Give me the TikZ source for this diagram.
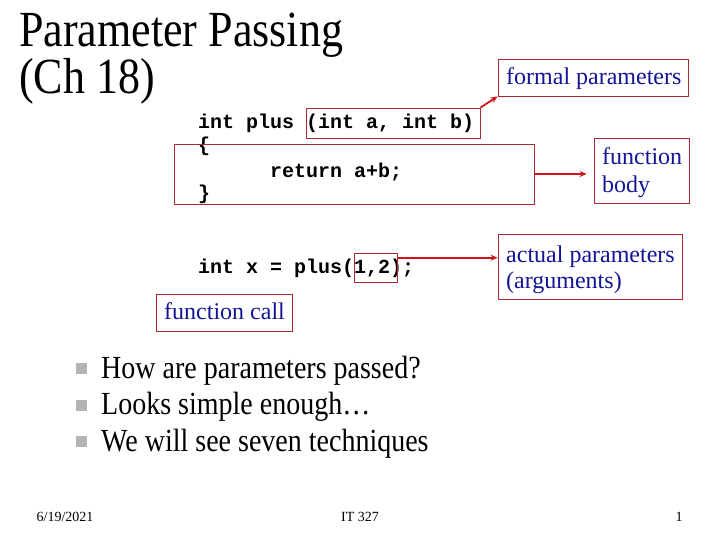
\documentclass[tikz,border=0pt]{standalone}
\usepackage{fontspec}
\setmainfont{Liberation Serif}
\newfontfamily\codefont{Liberation Mono}
\usetikzlibrary{arrows.meta,calc}
\definecolor{boxred}{RGB}{170,40,50}
\definecolor{arrred}{RGB}{205,20,30}
\definecolor{lblue}{RGB}{20,20,150}
\definecolor{bulgrey}{RGB}{180,180,180}
\newcommand\vstretch[1]{\scalebox{1}[1.15]{#1}}
\tikzset{
  txt/.style={anchor=base west, inner sep=0pt},
  title/.style={txt, font=\fontsize{44}{48}\selectfont},
  code/.style={txt, font=\codefont\bfseries\fontsize{20}{24}\selectfont},
  hbox/.style={draw=boxred, line width=0.8pt, inner sep=0pt},
  ltxt/.style={txt, text=lblue, font=\fontsize{24}{28}\selectfont},
  bul/.style={txt, font=\fontsize{28}{36}\selectfont},
  bulmark/.style={fill=bulgrey, minimum size=11pt, inner sep=0pt},
  foot/.style={anchor=base, inner sep=0pt, font=\fontsize{14}{16}\selectfont},
  arr/.style={draw=arrred, line width=1.8pt, -{Stealth[length=7pt,width=6pt]}}
}
\begin{document}
\begin{tikzpicture}[x=1pt,y=-1pt]
\useasboundingbox[fill=white] (0,0) rectangle (720,540);
% title
\node[title] (t1) at (19,47) {\vstretch{Parameter Passing}};
\node[title] (t2) at (19,94) {\vstretch{(Ch 18)}};
% code
\node[code] (c1) at (198,129) {int plus (int a, int b)};
\node[code] (c2) at (198,152) {\{};
\node[code] (c3) at (270,178) {return a+b;};
\node[code] (c4) at (198,200) {\}};
\node[code] (c5) at (198,273) {int x = plus(1,2);};
% highlight boxes in code
\node[hbox, minimum width=174pt, minimum height=30pt] (fbox) at (393,123) {};
\node[hbox, minimum width=360pt, minimum height=60pt] (bbox) at (354,174) {};
\node[hbox, minimum width=43pt, minimum height=29pt] (abox) at (375.5,267.5) {};
% label boxes
\node[hbox, minimum width=190pt, minimum height=37pt] (flbl) at (593,77.5) {};
\node[hbox, minimum width=95pt, minimum height=65pt] (blbl) at (641.5,170.5) {};
\node[hbox, minimum width=184pt, minimum height=65pt] (albl) at (590,266.5) {};
\node[hbox, minimum width=136pt, minimum height=37pt] (clbl) at (224,312.5) {};
% label texts
\node[ltxt] (ft) at (506,85) {formal parameters};
\node[ltxt] (bt1) at (602,165) {function};
\node[ltxt] (bt2) at (602,193) {body};
\node[ltxt] (at1) at (506,262) {actual parameters};
\node[ltxt] (at2) at (506,288) {(arguments)};
\node[ltxt] (ct) at (164,319) {function call};
% arrows
\draw[arr] (fbox.north east) -- (flbl.south west);
\draw[arr, shorten >=7pt] (bbox.east) -- (bbox.east -| blbl.west);
\draw[arr] (abox.24) -- (abox.24 -| albl.west);
% bullets
\node[bulmark] (m1) at (81,368) {};
\node[bulmark] (m2) at (81,405) {};
\node[bulmark] (m3) at (81,441) {};
\node[bul] (b1) at (101,378) {\vstretch{How are parameters passed?}};
\node[bul] (b2) at (101,414) {\vstretch{Looks simple enough\ldots}};
\node[bul] (b3) at (101,451) {\vstretch{We will see seven techniques}};
% footer
\node[foot] (f1) at (65,521.5) {6/19/2021};
\node[foot] (f2) at (360,521.5) {IT 327};
\node[foot] (f3) at (679,521.5) {1};
\end{tikzpicture}
\end{document}
